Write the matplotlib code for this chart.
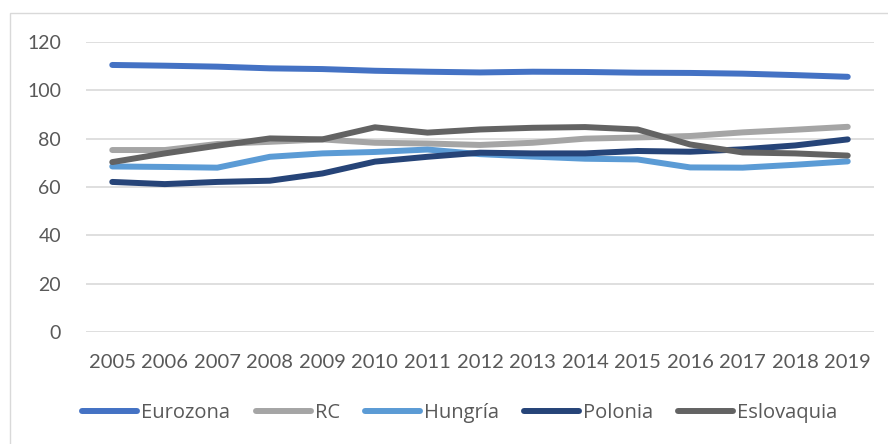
import matplotlib
matplotlib.use('Agg')
import matplotlib.pyplot as plt
from matplotlib.patches import Rectangle

years = ['2005', '2006', '2007', '2008', '2009', '2010', '2011', '2012',
         '2013', '2014', '2015', '2016', '2017', '2018', '2019']

eurozona = [110.5, 110.2, 109.8, 109.1, 108.8, 108.1, 107.7, 107.4,
            107.7, 107.6, 107.3, 107.2, 106.9, 106.3, 105.6]
rc = [75.3, 75.3, 77.8, 78.7, 79.7, 78.3, 78.0, 77.4,
      78.3, 80.0, 80.5, 81.1, 82.6, 83.7, 84.9]
hungria = [68.5, 68.3, 68.0, 72.5, 73.9, 74.5, 75.5, 73.6,
           72.6, 71.7, 71.4, 68.1, 68.0, 69.2, 70.6]
polonia = [62.1, 61.2, 62.1, 62.6, 65.6, 70.5, 72.5, 74.2,
           73.9, 73.9, 74.9, 74.6, 75.6, 77.2, 79.7]
eslovaquia = [70.3, 73.9, 77.1, 80.1, 79.7, 84.7, 82.5, 83.8,
              84.5, 84.8, 83.8, 77.6, 74.3, 73.9, 73.0]

series = [
    ('Eurozona', eurozona, '#4472C4'),
    ('RC', rc, '#A5A5A5'),
    ('Hungría', hungria, '#5B9BD5'),
    ('Polonia', polonia, '#264478'),
    ('Eslovaquia', eslovaquia, '#636363'),
]

text_color = '#595959'

fig = plt.figure(figsize=(8.88, 4.44), dpi=100)
ax = fig.add_axes([86 / 888, 1 - 332 / 444, 788 / 888, 290 / 444])

x = list(range(len(years)))
for name, vals, color in series:
    ax.plot(x, vals, color=color, lw=4.3, solid_capstyle='round',
            solid_joinstyle='round', label=name)

ax.set_xlim(-0.5, len(years) - 0.5)
ax.set_ylim(0, 120)
ax.set_yticks(range(0, 121, 20))
ax.yaxis.grid(True, color='#D9D9D9', lw=1.2)
ax.set_axisbelow(True)
for s in ax.spines.values():
    s.set_visible(False)

ax.set_xticks(x)
ax.set_xticklabels(years, family=['Lato', 'DejaVu Sans'],
                   fontsize=14.5, color=text_color)
for lab in ax.get_yticklabels():
    lab.set_family(['Lato', 'DejaVu Sans'])
    lab.set_fontsize(14)
    lab.set_color(text_color)
ax.tick_params(axis='x', length=0, pad=16)
ax.tick_params(axis='y', length=0, pad=18)

leg = fig.legend(loc='center', bbox_to_anchor=(0.518, 1 - 413 / 444), ncol=5,
                 frameon=False, handlelength=2.73, handletextpad=0.2,
                 columnspacing=1.25,
                 prop={'family': ['Open Sans', 'DejaVu Sans'], 'size': 14.5})
for t in leg.get_texts():
    t.set_color(text_color)

fig.patches.append(Rectangle((10 / 888, -0.1), 1.0, 1 - 13 / 444 + 0.1,
                             transform=fig.transFigure, fill=False,
                             edgecolor='#D9D9D9', lw=1.0))

fig.savefig('out.png', dpi=100)
